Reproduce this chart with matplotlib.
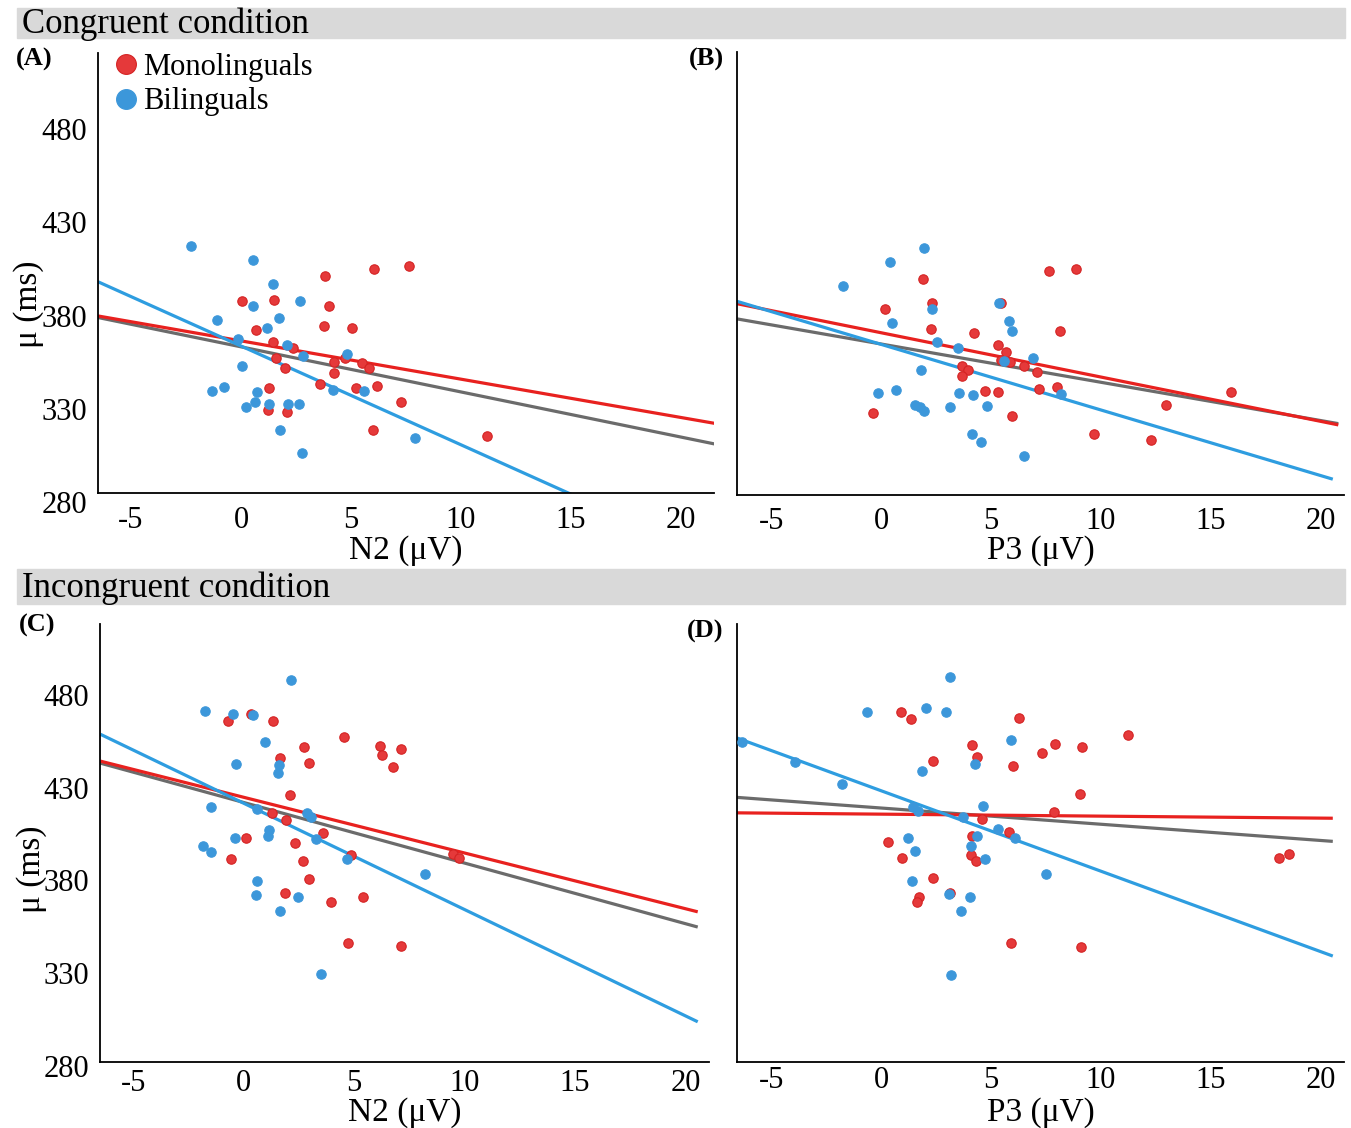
import numpy as np
import matplotlib
matplotlib.use('Agg')
import matplotlib.pyplot as plt
from matplotlib.patches import Rectangle
from matplotlib.transforms import ScaledTranslation

plt.rcParams['font.family'] = ['Liberation Serif', 'DejaVu Serif']
plt.rcParams['axes.unicode_minus'] = False

# valores
x_ticks = [-5, 0, 5, 10, 15, 20]
y_ticks = [280, 330, 380, 430, 480]

# (A) congruente, N2
a_mono_x = [0.06, 1.52, 3.83, 6.06, 7.65, 4.02, 0.67, 3.75, 5.03, 1.46, 2.37, 1.58, 1.99, 4.24,
            4.73, 5.52, 5.82, 4.22, 3.59, 1.28, 5.21, 6.17, 7.26, 1.22, 2.11, 6.0, 11.16]
a_mono_y = [383.1, 383.3, 396.2, 400.2, 401.5, 380.2, 367.4, 369.5, 368.7, 361.0, 357.8, 352.4,
            347.2, 350.1, 352.4, 349.7, 346.8, 344.1, 338.4, 336.1, 336.1, 337.2, 328.6, 324.5,
            323.2, 313.8, 310.5]
a_bi_x = [-2.29, 0.53, 1.44, 2.66, 0.55, -1.10, 1.72, 1.16, -0.12, 2.09, 2.82, 4.83, 0.06, -1.34,
          -0.77, 0.71, 4.20, 5.60, 0.22, 0.65, 1.26, 2.15, 2.64, 1.76, 7.93, 2.76]
a_bi_y = [412.7, 405.2, 392.1, 383.1, 380.4, 372.9, 373.7, 368.5, 362.8, 359.3, 353.5, 354.3,
          348.0, 334.9, 337.0, 334.3, 335.1, 334.5, 326.1, 328.6, 328.0, 327.6, 328.0, 313.6,
          309.4, 301.7]

# (B) congruente, P3
b_mono_x = [1.89, 7.65, 8.86, 2.32, 5.47, 0.18, 2.26, 4.24, 8.12, 5.33, 5.70, 5.84, 5.43, 3.70,
            6.52, 3.97, 7.11, 3.70, 7.16, 7.98, 4.73, 5.33, 15.92, 12.95, -0.35, 5.94, 9.67, 12.26]
b_mono_y = [394.8, 399.0, 400.4, 382.2, 382.2, 379.1, 368.3, 366.2, 367.4, 359.7, 356.2, 350.9,
            351.6, 348.7, 348.7, 346.2, 345.3, 343.0, 336.1, 337.4, 335.3, 334.9, 334.5, 327.6,
            323.4, 322.1, 312.5, 309.2]
b_bi_x = [1.97, 0.39, -1.73, 5.35, 2.32, 0.51, 5.80, 5.96, 2.53, 3.50, 6.93, 5.59, 1.81, -0.16,
          0.68, 3.52, 4.20, 8.18, 1.52, 1.75, 1.93, 3.13, 4.81, 4.13, 4.56, 6.48]
b_bi_y = [411.5, 404.0, 391.0, 382.2, 379.1, 371.6, 372.5, 367.2, 361.2, 358.0, 353.0, 351.4,
          346.6, 334.0, 335.7, 334.0, 333.2, 333.6, 327.6, 326.7, 324.7, 326.5, 327.0, 312.5,
          308.0, 300.5]

# (C) incongruente, N2
c_mono_x = [-0.71, 0.34, 1.31, 4.53, 2.75, 6.16, 7.13, 6.26, 1.64, 2.95, 6.77, 2.08, 1.29, 1.92,
            3.58, 0.12, 2.34, -0.57, 2.71, 4.87, 9.49, 9.76, 2.95, 1.86, 3.96, 5.41, 4.71, 7.13]
c_mono_y = [463.4, 467.2, 463.5, 454.9, 449.3, 450.1, 448.4, 445.3, 443.4, 441.1, 438.8, 423.6,
            413.8, 410.3, 403.2, 400.7, 397.8, 389.2, 388.0, 391.5, 392.1, 389.7, 378.6, 370.9,
            366.1, 368.6, 344.0, 342.1]
c_bi_x = [2.14, -1.74, -0.46, 0.44, 0.95, -0.36, 1.60, 1.56, -1.49, 0.59, 2.85, 3.07, 1.13, 1.09,
          -0.40, 3.29, -1.82, -1.49, 4.67, 8.22, 0.61, 0.55, 2.46, 1.64, 3.49]
c_bi_y = [485.7, 469.1, 467.2, 466.8, 452.2, 440.1, 439.7, 435.3, 417.2, 416.1, 413.8, 411.8,
          404.9, 401.3, 400.3, 399.7, 395.9, 393.0, 389.0, 380.9, 377.1, 369.9, 368.4, 360.9,
          327.1]

# (D) incongruente, P3
d_mono_x = [0.88, 1.38, 6.29, 11.23, 4.13, 4.34, 7.92, 9.13, 7.32, 2.34, 6.00, 9.03, 7.88, 4.59,
            5.82, 4.13, 0.31, 0.97, 4.09, 4.32, 2.34, 3.15, 1.71, 1.65, 18.12, 18.57, 5.90, 9.09]
d_mono_y = [468.5, 464.7, 464.9, 456.2, 450.3, 443.9, 451.1, 449.5, 446.4, 442.0, 439.5, 424.1,
            414.3, 410.7, 403.6, 401.3, 398.2, 389.7, 391.5, 388.2, 378.8, 370.9, 368.6, 366.1,
            389.6, 392.1, 343.8, 341.7]
d_bi_x = [3.11, -0.64, 2.06, 2.94, 5.92, -3.93, 4.28, 1.87, -1.79, 4.65, 1.46, 1.67, 3.72, 5.31,
          6.11, 1.21, 4.36, 4.09, 1.52, 4.73, 7.48, 1.40, 3.08, 4.03, 3.62, 3.17, -6.33]
d_bi_y = [487.4, 468.2, 470.5, 468.5, 453.4, 441.3, 440.5, 436.3, 429.3, 417.8, 417.4, 415.1,
          411.7, 405.3, 400.3, 400.7, 401.7, 396.3, 393.4, 389.2, 381.1, 377.1, 370.1, 368.4,
          360.9, 326.5, 452.2]

# retas de tendência: (inclinação, intercepto) para mono, bi e todos
a_fit = [(-2.055, 361.6), (-5.30, 358.85), (-2.42, 358.4)]
b_fit = [(-2.362, 366.3), (-3.498, 360.1), (-2.041, 360.3)]
c_fit = [(-3.003, 422.4), (-5.73, 419.2), (-3.266, 419.6)]
d_fit = [(-0.107, 413.3), (-4.333, 425.9), (-0.874, 416.6)]
# até onde cada reta vai no eixo x (mono, bi, todos)
a_fit_end = [21.6, 21.6, 21.6]
b_fit_end = [20.8, 20.55, 20.8]
c_fit_end = [20.55, 20.55, 20.55]
d_fit_end = [20.55, 20.55, 20.55]

red = '#e5393a'
red_edge = '#d42323'
blue = '#3c97da'
red_line = '#e8211f'
blue_line = '#2e9de0'
gray_line = '#6b6b6b'

W, H = 1351, 1128
fig = plt.figure(figsize=(W / 100, H / 100), dpi=100)


def box(l, t, r, b):
    return [l / W, 1 - b / H, (r - l) / W, (b - t) / H]


paineis = [
    dict(pos=box(98, 53, 714, 493), xlim=(-6.5, 21.5), mx=a_mono_x, my=a_mono_y, bx=a_bi_x, by=a_bi_y,
         fit=a_fit, end=a_fit_end, xlabel='N2 (μV)', yl=True, dy=9, ylab_y=0.43, xlab_y=-0.095, xpad=9),
    dict(pos=box(737, 52, 1344, 494.6), xlim=(-6.56, 21.06), mx=b_mono_x, my=b_mono_y, bx=b_bi_x, by=b_bi_y,
         fit=b_fit, end=b_fit_end, xlabel='P3 (μV)', yl=False, dy=9, ylab_y=0.43, xlab_y=-0.092, xpad=9),
    dict(pos=box(100.4, 623.5, 709, 1061.6), xlim=(-6.48, 21.06), mx=c_mono_x, my=c_mono_y, bx=c_bi_x, by=c_bi_y,
         fit=c_fit, end=c_fit_end, xlabel='N2 (μV)', yl=True, dy=4.5, ylab_y=0.44, xlab_y=-0.082, xpad=5),
    dict(pos=box(737, 623.5, 1344, 1061.6), xlim=(-6.56, 21.06), mx=d_mono_x, my=d_mono_y, bx=d_bi_x, by=d_bi_y,
         fit=d_fit, end=d_fit_end, xlabel='P3 (μV)', yl=False, dy=4.5, ylab_y=0.44, xlab_y=-0.082, xpad=3),
]

eixos = []
for p in paineis:
    ax = fig.add_axes(p['pos'])
    x0 = p['xlim'][0]
    cores = [red_line, blue_line, gray_line]
    for k in [2, 0, 1]:
        m, b = p['fit'][k]
        xs = np.array([x0, p['end'][k]])
        ax.plot(xs, m * xs + b, color=cores[k], lw=2.3, solid_capstyle='butt', zorder=2)
    sm = ax.scatter(p['mx'], p['my'], s=46, color=red, edgecolors=red_edge, linewidths=0.8, zorder=3)
    sb = ax.scatter(p['bx'], p['by'], s=46, color=blue, edgecolors=blue, linewidths=0.8, zorder=4)
    ax.set_xlim(p['xlim'])
    ax.set_ylim(280, 516)
    ax.set_xticks(x_ticks)
    ax.set_yticks(y_ticks)
    for s in ['top', 'right']:
        ax.spines[s].set_visible(False)
    for s in ['left', 'bottom']:
        ax.spines[s].set_linewidth(1.3)
    ax.tick_params(axis='both', length=0, labelsize=22)
    ax.tick_params(axis='x', pad=p['xpad'])
    ax.tick_params(axis='y', pad=8)
    ax.set_xlabel(p['xlabel'], fontsize=24)
    ax.xaxis.set_label_coords(0.5, p['xlab_y'])
    ax.xaxis.label.set_va('top')
    if p['yl']:
        ax.set_ylabel('μ (ms)', fontsize=24)
        ax.yaxis.set_label_coords(-0.087, p['ylab_y'])
        desl = ScaledTranslation(0, -p['dy'] / 100, fig.dpi_scale_trans)
        for t in ax.yaxis.get_major_ticks():
            t.label1.set_transform(t.label1.get_transform() + desl)
    else:
        ax.tick_params(axis='y', labelleft=False)
    eixos.append((ax, sm, sb))

ax, sm, sb = eixos[0]
ax.legend([sm, sb], ['Monolinguals', 'Bilinguals'], loc='upper left',
          bbox_to_anchor=(117 / W, 1 - 53 / H), bbox_transform=fig.transFigure,
          frameon=False, fontsize=22, markerscale=2.1, scatteryoffsets=[0.5],
          handlelength=0.62, handletextpad=0.22, labelspacing=0.18, borderpad=0, borderaxespad=0)

# faixas cinza dos títulos
for topo, base, txt, lin in [(8, 38, 'Congruent condition', 33), (569, 604, 'Incongruent condition', 597)]:
    fig.patches.append(Rectangle((17 / W, 1 - base / H), (1345 - 17) / W, (base - topo) / H,
                                 transform=fig.transFigure, color='#d9d9d9', zorder=0))
    fig.text(22 / W, 1 - lin / H, txt, fontsize=25, va='baseline', ha='left')

for lx, ly, rot in [(34, 59, '(A)'), (706, 59, '(B)'), (37, 625, '(C)'), (705, 631, '(D)')]:
    fig.text(lx / W, 1 - ly / H, rot, fontsize=19, fontweight='bold', ha='center', va='center')

fig.savefig('out.png', dpi=100)
